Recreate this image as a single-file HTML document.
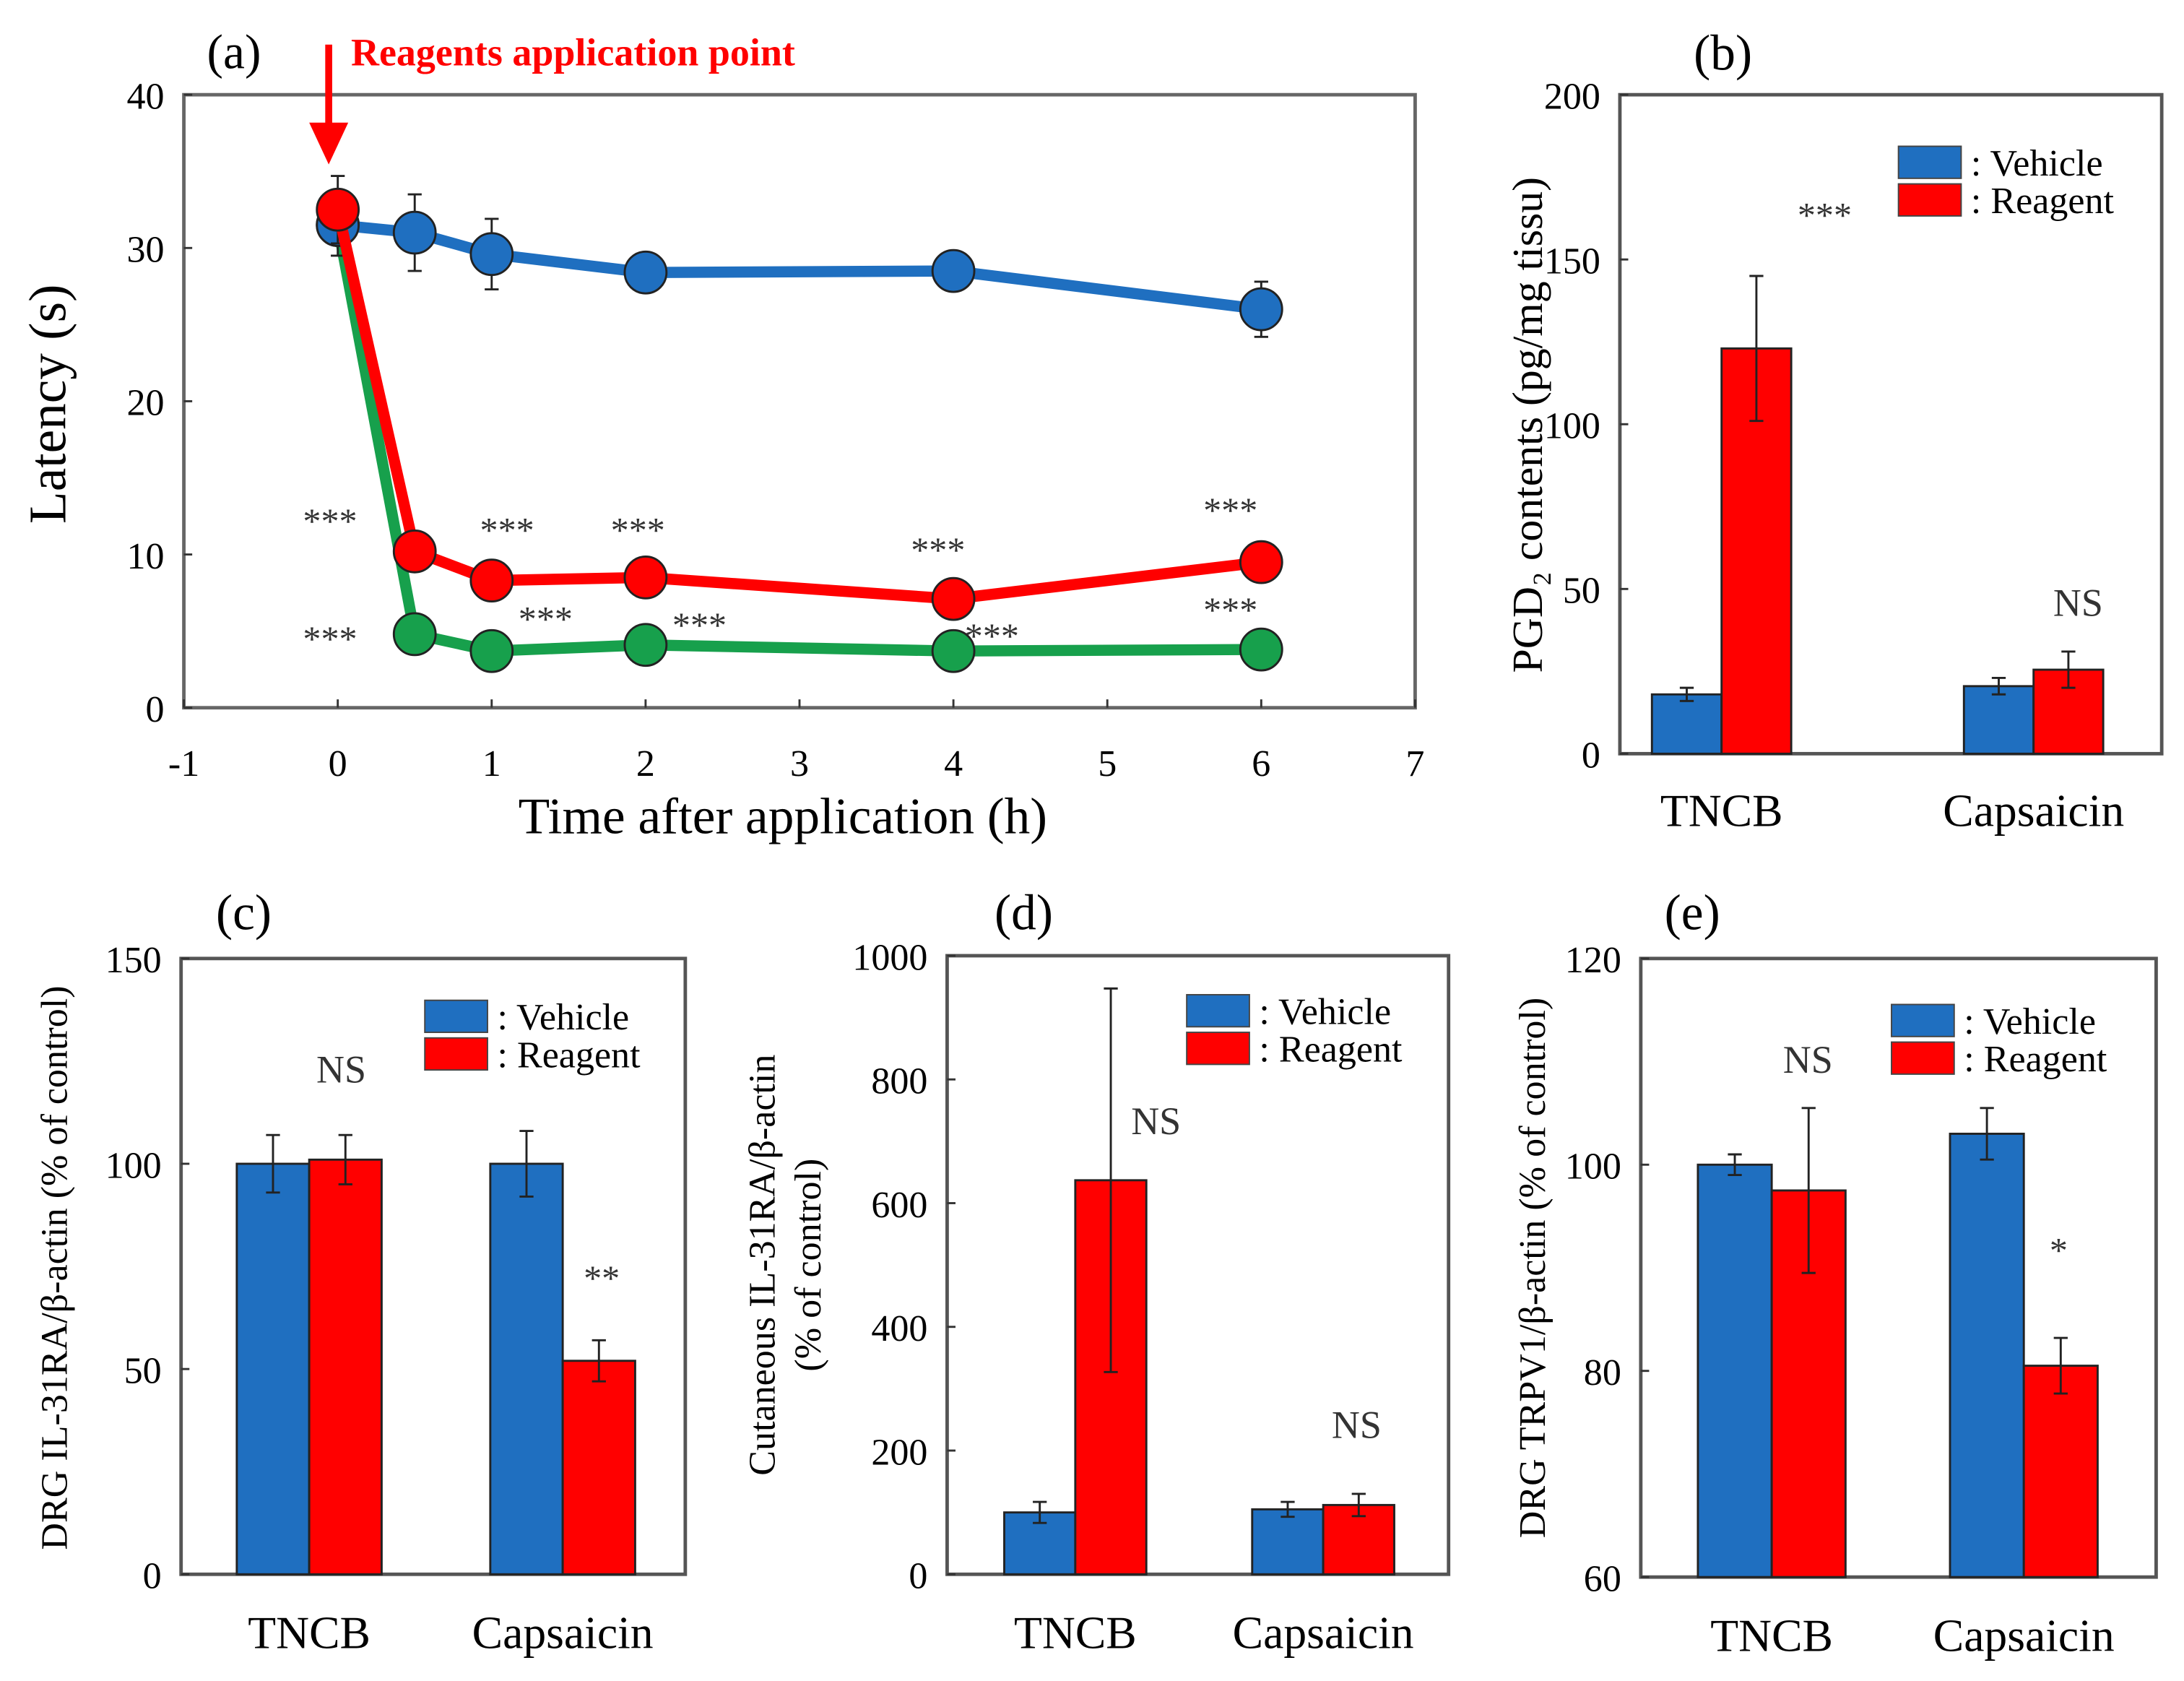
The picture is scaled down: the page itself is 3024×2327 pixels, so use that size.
<!DOCTYPE html>
<html><head><meta charset="utf-8"><style>
html,body{margin:0;padding:0;background:#fff;}
svg{display:block;font-family:"Liberation Serif",serif;}
</style></head><body>
<svg id="fig" width="3024" height="2327" viewBox="0 0 1568 1206.6" preserveAspectRatio="none" xmlns="http://www.w3.org/2000/svg">
<rect width="1568" height="1207" fill="#fff"/>
</svg>
<script>
// ---- Panel (a) data ----
const timesA = [0, 0.5, 1, 2, 4, 6];
const blueVals = [31.5, 31, 29.6, 28.4, 28.5, 26];
const blueErr = [2, 2.5, 2.3, 0.5, 0.5, 1.8];
const redVals = [32.5, 10.2, 8.3, 8.5, 7.1, 9.5];
const redErr = [2.2, 0.5, 0.5, 0.5, 0.5, 0.5];
const greenVals = [31.5, 4.8, 3.7, 4.1, 3.7, 3.8];
const xTicksA = [-1, 0, 1, 2, 3, 4, 5, 6, 7];
const yTicksA = [0, 10, 20, 30, 40];
const starsUpperX = [-0.05, 1.1, 1.95, 3.9, 5.8];
const starsUpperY = [12.4, 11.8, 11.8, 10.5, 13.1];
const starsLowerX = [-0.05, 1.35, 2.35, 4.25, 5.8];
const starsLowerY = [4.7, 6.0, 5.6, 4.9, 6.6];

// ---- Bar panel data ----
const categories = ["TNCB", "Capsaicin"];
const bVehicle = [18, 20.5], bVehErr = [2, 2.5], bReagent = [123, 25.5], bReaErr = [22, 5.5], bTicks = [0, 50, 100, 150, 200];
const cVehicle = [100, 100], cVehErr = [7, 8], cReagent = [101, 52], cReaErr = [6, 5], cTicks = [0, 50, 100, 150];
const dVehicle = [100, 105], dVehErr = [17, 12], dReagent = [637, 112], dReaErr = [310, 18], dTicks = [0, 200, 400, 600, 800, 1000];
const eVehicle = [100, 103], eVehErr = [1, 2.5], eReagent = [97.5, 80.5], eReaErr = [8, 2.7], eTicks = [60, 80, 100, 120];

const NS = "http://www.w3.org/2000/svg";
const svg = document.getElementById('fig');
const BLUE = "#1f6fc0", RED = "#ff0000", GREEN = "#17a04c";
function el(tag, attrs, parent) {
  const e = document.createElementNS(NS, tag);
  for (const k in attrs) e.setAttribute(k, attrs[k]);
  (parent || svg).appendChild(e);
  return e;
}
function txt(s, x, y, size, attrs, parent) {
  const t = el('text', Object.assign({x: x, y: y, 'font-size': size}, attrs || {}), parent);
  t.textContent = s;
  return t;
}

// ===== Panel (a) =====
(function () {
  const g = el('g', {});
  
  
  const L = 132, R = 1016, T = 68, B = 508;
  const sx = v => L + (v - (-1)) / 8 * (R - L);
  const sy = v => B - v / 40 * (B - T);
  const frame = el('rect', {x: L, y: T, width: R - L, height: B - T, fill: 'none', stroke: '#666', 'stroke-width': 2.5}, g);
  
  
  yTicksA.forEach(v => {
    el('line', {x1: L, x2: L + 6, y1: sy(v), y2: sy(v), stroke: '#333', 'stroke-width': 1.5}, g);
    const t = txt(String(v), L - 14, sy(v) + 10, 27, {'text-anchor': 'end'}, g);
    
    
  });
  xTicksA.forEach(v => {
    el('line', {x1: sx(v), x2: sx(v), y1: B, y2: B - 6, stroke: '#333', 'stroke-width': 1.5}, g);
    const t = txt(String(v), sx(v), 557, 27, {'text-anchor': 'middle'}, g);
    
    
  });
  const xt = txt("Time after application (h)", 562, 598, 37, {'text-anchor': 'middle'}, g);
  
  
  const yt = txt("Latency (s)", 0, 0, 38, {'text-anchor': 'middle', transform: 'translate(47,290) rotate(-90)'}, g);
  
  
  const pl = txt("(a)", 168, 49, 35, {'text-anchor': 'middle'}, g);
  
  
  const rt = txt("Reagents application point", 252, 47, 28, {fill: RED, 'font-weight': 'bold'}, g);
  
  
  const arr = el('g', {}, g);
  
  
  el('line', {x1: 236, x2: 236, y1: 32, y2: 100, stroke: RED, 'stroke-width': 5}, arr);
  el('polygon', {points: '222,88 250,88 236,118', fill: RED}, arr);

  function series(vals, errs, color, name) {
    const sg = el('g', {}, g);
    
    
    if (errs) vals.forEach((v, i) => {
      const x = sx(timesA[i]);
      el('line', {x1: x, x2: x, y1: sy(v + errs[i]), y2: sy(v - errs[i]), stroke: '#222', 'stroke-width': 1.5}, sg);
      el('line', {x1: x - 5, x2: x + 5, y1: sy(v + errs[i]), y2: sy(v + errs[i]), stroke: '#222', 'stroke-width': 1.5}, sg);
      el('line', {x1: x - 5, x2: x + 5, y1: sy(v - errs[i]), y2: sy(v - errs[i]), stroke: '#222', 'stroke-width': 1.5}, sg);
    });
    const pts = vals.map((v, i) => sx(timesA[i]) + ',' + sy(v)).join(' ');
    const line = el('polyline', {points: pts, fill: 'none', stroke: color, 'stroke-width': 8, 'stroke-linejoin': 'round'}, sg);
    
    
    vals.forEach((v, i) => {
      const c = el('circle', {cx: sx(timesA[i]), cy: sy(v), r: 15, fill: color, stroke: '#222', 'stroke-width': 1.5}, sg);
      
      
    });
  }
  series(greenVals, null, GREEN, 'green-series');
  series(blueVals, blueErr, BLUE, 'vehicle-series');
  series(redVals, redErr, RED, 'reagent-series');
  starsUpperX.forEach((x, i) => {
    const t = txt("***", sx(x), sy(starsUpperY[i]) + 11, 26, {'text-anchor': 'middle', fill: '#333'}, g);
    
    
  });
  starsLowerX.forEach((x, i) => {
    const t = txt("***", sx(x), sy(starsLowerY[i]) + 11, 26, {'text-anchor': 'middle', fill: '#333'}, g);
    
    
  });
})();

// ===== Bar panels =====
function barPanel(o) {
  const g = el('g', {});
  
  
  const sy = v => o.B - (v - o.min) / (o.max - o.min) * (o.B - o.T);
  const frame = el('rect', {x: o.L, y: o.T, width: o.R - o.L, height: o.B - o.T, fill: 'none', stroke: o.frameColor || '#555', 'stroke-width': 2.5}, g);
  
  
  o.ticks.forEach(v => {
    el('line', {x1: o.L, x2: o.L + 6, y1: sy(v), y2: sy(v), stroke: '#333', 'stroke-width': 1.5}, g);
    const t = txt(String(v), o.L - 14, sy(v) + 10, 27, {'text-anchor': 'end'}, g);
    
    
  });
  o.titles.forEach((s, i) => {
    const t = txt(s, 0, 0, o.titleSize || 26, {'text-anchor': 'middle', transform: 'translate(' + o.titleX[i] + ',' + o.titleY + ') rotate(-90)'}, g);
    
    
  });
  const pl = txt(o.label, o.labelX, o.labelY, 36, {'text-anchor': 'middle'}, g);
  
  
  const bw = o.bw;
  categories.forEach((c, i) => {
    const cx = o.cx[i];
    [[o.veh[i], o.vehErr[i], cx - bw, BLUE, 'vehicle-bar'], [o.rea[i], o.reaErr[i], cx, RED, 'reagent-bar']].forEach(b => {
      const top = sy(b[0]);
      const r = el('rect', {x: b[2], y: top, width: bw, height: o.B - top, fill: b[3], stroke: '#222', 'stroke-width': 1.5}, g);
      
      
      const ex = b[2] + bw / 2;
      el('line', {x1: ex, x2: ex, y1: sy(b[0] + b[1]), y2: sy(b[0] - b[1]), stroke: '#222', 'stroke-width': 1.5}, g);
      el('line', {x1: ex - 5, x2: ex + 5, y1: sy(b[0] + b[1]), y2: sy(b[0] + b[1]), stroke: '#222', 'stroke-width': 1.5}, g);
      el('line', {x1: ex - 5, x2: ex + 5, y1: sy(b[0] - b[1]), y2: sy(b[0] - b[1]), stroke: '#222', 'stroke-width': 1.5}, g);
    });
    const cl = txt(c, cx, o.catY, 33, {'text-anchor': 'middle'}, g);
    
    
  });
  o.marks.forEach(m => {
    const t = txt(m[0], m[1], m[2], m[0] === 'NS' ? 28 : 26, {'text-anchor': 'middle', fill: '#333'}, g);
    
    
  });
  const lg = el('g', {}, g);
  
  
  [[BLUE, ': Vehicle', 0, 'legend-entry-vehicle'], [RED, ': Reagent', 1, 'legend-entry-reagent']].forEach(e => {
    const y = o.legY + e[2] * 27;
    const sw = el('rect', {x: o.legX, y: y, width: 45, height: 23, fill: e[0], stroke: '#444', 'stroke-width': 1}, lg);
    
    
    txt(e[1], o.legX + 52, y + 21, 27, {}, lg);
  });
}

barPanel({name: 'panel-b-pgd2', L: 1163, R: 1552, T: 68, B: 541, min: 0, max: 200, ticks: bTicks,
  veh: bVehicle, vehErr: bVehErr, rea: bReagent, reaErr: bReaErr, cx: [1236, 1460], bw: 50, catY: 593,
  titles: ["PGD₂ contents (pg/mg tissu)"], titleX: [1107], titleY: 305, titleSize: 31,
  label: "(b)", labelX: 1237, labelY: 50, legX: 1363, legY: 105,
  marks: [["***", 1310, 163], ["NS", 1492, 442]]});
barPanel({name: 'panel-c-drg-il31ra', L: 130, R: 492, T: 688, B: 1130, min: 0, max: 150, ticks: cTicks,
  veh: cVehicle, vehErr: cVehErr, rea: cReagent, reaErr: cReaErr, cx: [222, 404], bw: 52, catY: 1183,
  titles: ["DRG IL-31RA/β-actin (% of control)"], titleX: [48], titleY: 910, titleSize: 27,
  label: "(c)", labelX: 175, labelY: 667, legX: 305, legY: 718,
  marks: [["NS", 245, 777], ["**", 432, 926]]});
barPanel({name: 'panel-d-cutaneous-il31ra', L: 680, R: 1040, T: 686, B: 1130, min: 0, max: 1000, ticks: dTicks,
  veh: dVehicle, vehErr: dVehErr, rea: dReagent, reaErr: dReaErr, cx: [772, 950], bw: 51, catY: 1183,
  titles: ["Cutaneous IL-31RA/β-actin", "(% of control)"], titleX: [556, 589], titleY: 908, titleSize: 27,
  label: "(d)", labelX: 735, labelY: 667, legX: 852, legY: 714,
  marks: [["NS", 830, 814], ["NS", 974, 1032]]});
barPanel({name: 'panel-e-drg-trpv1', L: 1178, R: 1548, T: 688, B: 1132, min: 60, max: 120, ticks: eTicks,
  veh: eVehicle, vehErr: eVehErr, rea: eReagent, reaErr: eReaErr, cx: [1272, 1453], bw: 53, catY: 1185,
  titles: ["DRG TRPV1/β-actin (% of control)"], titleX: [1109], titleY: 910, titleSize: 27,
  label: "(e)", labelX: 1215, labelY: 667, legX: 1358, legY: 721,
  marks: [["NS", 1298, 770], ["*", 1478, 906]]});
</script>
</body></html>
